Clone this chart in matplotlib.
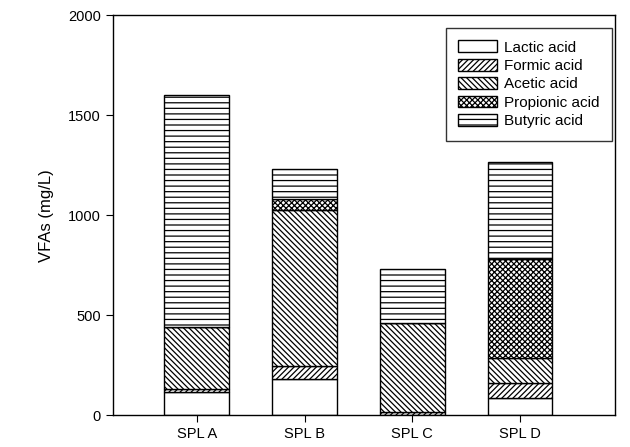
import matplotlib
matplotlib.use("Agg")
import matplotlib.pyplot as plt
import numpy as np

plt.rcParams['font.family'] = ['Liberation Sans', 'DejaVu Sans']
plt.rcParams['hatch.linewidth'] = 0.9

samples = ["SPL A", "SPL B", "SPL C", "SPL D"]
acids = ["Lactic acid", "Formic acid", "Acetic acid", "Propionic acid", "Butyric acid"]

lactic = [116, 184, 3, 86]
formic = [14, 63, 15, 78]
acetic = [310, 778, 443, 122]
propionic = [0, 57, 0, 495]
butyric = [1162, 150, 271, 485]

hatches = ["", "//////", "\\\\\\\\\\\\", "xxxxxx", "---"]

fig = plt.figure(figsize=(6.3, 4.47), dpi=100)
ax = fig.add_axes([0.179, 0.0705, 0.797, 0.8955])

x = np.arange(1, len(samples) + 1)
bottom = np.zeros(len(samples))
for name, vals, h in zip(acids, [lactic, formic, acetic, propionic, butyric], hatches):
    vals = np.array(vals, dtype=float)
    ax.bar(x, vals, width=0.6, bottom=bottom, color="white", edgecolor="black",
           linewidth=1.0, hatch=h, label=name)
    bottom += vals

ax.set_xlim(0.22, 4.88)
ax.set_ylim(0, 2000)
ax.set_xticks(x)
ax.set_xticklabels(samples, fontsize=10.5)
ax.set_yticks([0, 500, 1000, 1500, 2000])
ax.tick_params(axis='y', labelsize=10.5, direction='out', length=5)
ax.tick_params(axis='x', direction='out', length=5)
ax.set_ylabel("VFAs (mg/L)", fontsize=12, labelpad=10)
for s in ax.spines.values():
    s.set_linewidth(1.0)

leg = ax.legend(loc="upper right", fontsize=11, frameon=True, fancybox=False,
                edgecolor="black", borderpad=0.8, handlelength=2.5, handleheight=0.8,
                handletextpad=0.5, labelspacing=0.28, borderaxespad=0,
                bbox_to_anchor=(0.994, 0.9675))
leg.get_frame().set_linewidth(1.0)

fig.savefig("out.png", dpi=100)
